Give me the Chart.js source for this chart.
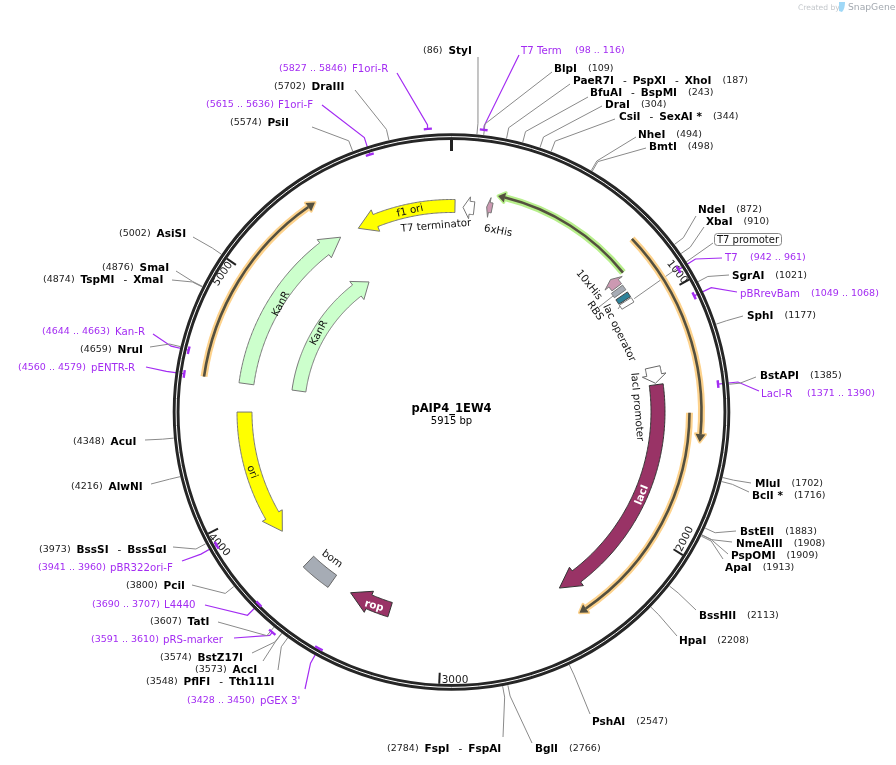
<!DOCTYPE html>
<html>
<head>
<meta charset="utf-8">
<title>pAIP4_1EW4</title>
<script src="https://cdn.jsdelivr.net/npm/chart.js@4"></script>
<style>
  html, body { margin: 0; padding: 0; background: #fff; }
  canvas { display: block; }
</style>
</head>
<body>
<canvas id="map" width="896" height="765"></canvas>
<script>
/* Plasmid map: everything is placed in base pairs and pushed through the chart scales. */

const plasmidName = "pAIP4_1EW4";
const plasmidSize = 5915;
const tickBp = [0, 1000, 2000, 3000, 4000, 5000];

const siteNames = [
  ["StyI"], ["BlpI"], ["PaeR7I", "PspXI", "XhoI"], ["BfuAI", "BspMI"], ["DraI"], ["CsiI", "SexAI *"],
  ["NheI"], ["BmtI"], ["NdeI"], ["XbaI"], ["SgrAI"], ["SphI"], ["BstAPI"], ["MluI"], ["BclI *"],
  ["BstEII"], ["NmeAIII"], ["PspOMI"], ["ApaI"], ["BssHII"], ["HpaI"], ["PshAI"], ["BglI"],
  ["FspI", "FspAI"], ["PflFI", "Tth111I"], ["AccI"], ["BstZ17I"], ["TatI"], ["PciI"],
  ["BssSI", "BssSαI"], ["AlwNI"], ["AcuI"], ["NruI"], ["SmaI"], ["TspMI", "XmaI"], ["AsiSI"],
  ["PsiI"], ["DraIII"],
];
const siteBp = [
  86, 109, 187, 243, 304, 344, 494, 498, 872, 910, 1021, 1177, 1385, 1702, 1716, 1883, 1908, 1909,
  1913, 2113, 2208, 2547, 2766, 2784, 3548, 3573, 3574, 3607, 3800, 3973, 4216, 4348, 4659, 4876,
  4874, 5002, 5574, 5702,
];

const primerNames = [
  "T7 Term", "T7", "pBRrevBam", "LacI-R", "pGEX 3'", "pRS-marker", "L4440", "pBR322ori-F",
  "pENTR-R", "Kan-R", "F1ori-F", "F1ori-R",
];
const primerStart = [98, 942, 1049, 1371, 3428, 3591, 3690, 3941, 4560, 4644, 5615, 5827];
const primerEnd = [116, 961, 1068, 1390, 3450, 3610, 3707, 3960, 4579, 4663, 5636, 5846];

const featureNames = [
  "f1 ori", "T7 terminator", "6xHis", "10xHis", "RBS", "lac operator", "T7 promoter",
  "lacI promoter", "lacI", "rop", "bom", "ori", "KanR", "KanR",
];
const featureStart = [5473, 53, 160, 825, 878, 915, 945, 1273, 1354, 3241, 3535, 3858, 4565, 4565];
const featureEnd = [16, 104, 185, 870, 903, 940, 968, 1347, 2440, 3437, 3676, 4436, 5383, 5383];
const featureDir = [-1, -1, -1, -1, 0, 0, 0, 1, 1, 1, 0, -1, 1, 1];

const thinStart = [200, 759, 1482, 4570];
const thinEnd = [836, 1592, 2423, 5371];
const thinDir = [-1, 1, 1, 1];

/* ---- layout and style, nothing below here is plasmid data ---- */
const CX = 451.5, CY = 412;
const RING_R = 275.4;
const PURPLE = "#a32cf2";

// text start x, text y, leader end x, leader end y
const siteLayout = [
  [423, 50, 478, 57], [554, 68, 552, 72], [573, 80, 570, 84], [590, 92, 588, 97], [605, 104, 602, 106],
  [619, 116, 615, 119], [638, 134, 636, 137], [649, 146, 646, 148], [698, 209, 696, 216],
  [706, 221, 704, 227], [732, 275, 729, 275], [747, 315, 743, 316], [760, 375, 756, 377],
  [755, 483, 751, 483], [752, 495, 749, 492], [740, 531, 736, 531], [736, 543, 732, 542],
  [731, 555, 728, 554], [725, 567, 723, 559], [699, 615, 696, 610], [679, 640, 677, 636],
  [592, 721, 590, 714], [535, 748, 532, 743], [387, 748, 503, 737], [146, 681, 278, 670],
  [195, 669, 263, 661], [160, 657, 252, 653], [150, 621, 218, 622], [126, 585, 192, 585],
  [39, 549, 173, 547], [71, 486, 151, 484], [73, 441, 145, 440], [80, 349, 150, 347],
  [102, 267, 176, 271], [43, 279, 172, 280], [119, 233, 193, 237], [230, 122, 312, 127],
  [274, 86, 355, 90],
];
const numberFirst = [
  true, false, false, false, false, false, false, false, false, false, false, false, false, false,
  false, false, false, false, false, false, false, false, false, true, true, true, true, true, true,
  true, true, true, true, true, true, true, true, true,
];

// name x, text y, leader end x, leader end y, range x
const primerLayout = [
  [521, 50, 519, 55, 575], [725, 257, 722, 258, 750], [740, 293, 737, 292, 811], [761, 393, 759, 391, 807],
  [260, 700, 305, 689, 187], [163, 639, 234, 638, 91], [164, 604, 205, 605, 92], [110, 567, 182, 561, 38],
  [91, 367, 146, 367, 18], [115, 331, 153, 334, 42], [278, 104, 322, 105, 206], [352, 68, 397, 73, 279],
];
const primerRadius = [284, 268, 269, 268, 271, 284, 272, 270, 270, 270, 270, 284];

// middle radius, band width, head width, head length in bp
const featureShape = [
  [206, 13, 23, 86], [205, 13, 22, 30], [208, 10, 20, 12], [207, 12, 22, 22], [206, 14, 0, 0], [206, 14, 0, 0],
  [206, 14, 0, 0], [206, 15, 24, 38], [206.5, 14, 23, 94], [207, 15, 23, 93], [207, 15, 0, 0], [207, 15, 23, 85],
  [207, 15, 23, 91], [154, 14, 23, 91],
];
const featureFill = [
  "#ffff00", "#ffffff", "#cc99b2", "#cc99b2", "#a6acb5", "#2f8299", "#ffffff", "#ffffff",
  "#993366", "#993366", "#a6acb5", "#ffff00", "#ccffcc", "#ccffcc",
];
const featureEdge = [
  "#777", "#777", "#777", "#777", "#777", "#444", "#777", "#666", "#333", "#333", "#666", "#777", "#777", "#777",
];
// text centre x, centre y, rotation in degrees, colour
const featureText = [
  [410, 211, -13, "#111"], [436, 226, -5, "#111"], [498, 231, 11, "#111"], [589, 285, 51, "#111"],
  [595, 311, 55, "#111"], [619, 333, 64, "#111"], [748, 240, 0, "#111"], [637, 407, 85, "#111"],
  [642, 495, -68, "#fff"], [374, 606, 16, "#fff"], [332, 559, 36, "#111"], [252, 472, 69, "#111"],
  [281, 304, -62, "#111"], [319, 333, -62, "#111"],
];
const tickText = [[], [677, 272, 52], [685, 539, -64], [455, 680, 0], [219, 545, 48], [223, 274, -56]];

const thinRadius = [221, 250, 238, 250];
const thinHalo = ["#b7ef8b", "#fdd28c", "#fdd28c", "#fdd28c"];

function polar(bp, r) {
  const a = (bp / plasmidSize) * 2 * Math.PI;
  return { x: CX + r * Math.sin(a), y: CY - r * Math.cos(a) };
}

// gray leaders: ring, short radial stub, then out to the label; null breaks the line
const siteLeaders = [];
siteBp.forEach((bp, i) => {
  const l = siteLayout[i];
  siteLeaders.push(polar(bp, 279), polar(bp, 290), { x: l[2], y: l[3] }, { x: null, y: null });
});
[[956, 215, 713, 243], [890, 212, 599, 307], [926, 213, 618, 309]].forEach((l) => {
  siteLeaders.push(polar(l[0], l[1]), { x: l[2], y: l[3] }, { x: null, y: null });
});

const primerLeaders = [];
primerNames.forEach((n, i) => {
  const mid = (primerStart[i] + primerEnd[i]) / 2;
  const l = primerLayout[i];
  primerLeaders.push(polar(mid, primerRadius[i]), polar(mid, 288), { x: l[2], y: l[3] }, { x: null, y: null });
});

/* marks that need a filled outline are drawn here, still in bp through the scales */
const mapPlugin = {
  id: "plasmidMap",
  afterDatasetsDraw(chart) {
    const { ctx, scales } = chart;
    const P = (bp, r) => {
      const p = polar(bp, r);
      return [scales.x.getPixelForValue(p.x), scales.y.getPixelForValue(p.y)];
    };
    const C = [scales.x.getPixelForValue(CX), scales.y.getPixelForValue(CY)];
    const toRad = (bp) => (bp / plasmidSize) * 2 * Math.PI - Math.PI / 2;

    function arcStroke(b0, b1, r, width, color, cap) {
      ctx.beginPath();
      ctx.arc(C[0], C[1], r, toRad(b0), toRad(b1));
      ctx.lineWidth = width;
      ctx.strokeStyle = color;
      ctx.lineCap = cap || "butt";
      ctx.stroke();
    }

    // ring
    arcStroke(0, plasmidSize, RING_R, 6.8, "#262626");
    arcStroke(0, plasmidSize, RING_R, 1, "#ffffff");

    // ticks
    tickBp.forEach((bp, i) => {
      const a = P(bp, 261), b = P(bp, 272);
      ctx.beginPath();
      ctx.moveTo(a[0], a[1]);
      ctx.lineTo(b[0], b[1]);
      ctx.lineWidth = i === 0 ? 3 : 2;
      ctx.strokeStyle = "#222";
      ctx.lineCap = "butt";
      ctx.stroke();
      const t = tickText[i];
      if (t.length) rotText(String(bp), t[0], t[1], t[2], "10.5px 'DejaVu Sans'", "#222");
    });

    // thin arrows with a halo
    thinStart.forEach((s, i) => {
      const e = thinEnd[i], r = thinRadius[i], dir = thinDir[i], head = 30;
      const tip = dir > 0 ? e : s;
      const base = tip - dir * head;
      const b0 = dir > 0 ? s : base, b1 = dir > 0 ? base : e;
      arcStroke(b0, b1, r, 7, thinHalo[i]);
      const wing1 = P(base, r + 5), wing2 = P(base, r - 5), t = P(tip, r);
      ctx.beginPath();
      ctx.moveTo(wing1[0], wing1[1]);
      ctx.lineTo(t[0], t[1]);
      ctx.lineTo(wing2[0], wing2[1]);
      ctx.closePath();
      ctx.lineJoin = "round";
      ctx.lineWidth = 3;
      ctx.strokeStyle = thinHalo[i];
      ctx.fillStyle = "#54503f";
      ctx.stroke();
      ctx.fill();
      arcStroke(b0, b1, r, 2.6, "#54503f");
    });

    // features
    featureNames.forEach((name, i) => {
      let s = featureStart[i], e = featureEnd[i];
      if (e < s) e += plasmidSize;
      const dir = featureDir[i];
      const [r, w, hw, hl] = featureShape[i];
      const tail = dir < 0 ? e : s;
      const tip = dir < 0 ? s : e;
      const d = dir || 1;
      const base = dir ? tip - d * hl : tip;
      const pts = [];
      const step = 6;
      for (let b = tail; d * (b - base) < 0; b += d * step) pts.push(P(b, r + w / 2));
      pts.push(P(base, r + w / 2));
      if (dir) {
        pts.push(P(base, r + hw / 2));
        pts.push(P(tip, r));
        pts.push(P(base, r - hw / 2));
      }
      pts.push(P(base, r - w / 2));
      for (let b = base - d * step; d * (b - tail) > 0; b -= d * step) pts.push(P(b, r - w / 2));
      pts.push(P(tail, r - w / 2));
      ctx.beginPath();
      pts.forEach((p, j) => (j ? ctx.lineTo(p[0], p[1]) : ctx.moveTo(p[0], p[1])));
      ctx.closePath();
      ctx.fillStyle = featureFill[i];
      ctx.strokeStyle = featureEdge[i];
      ctx.lineWidth = 1;
      ctx.lineJoin = "miter";
      ctx.fill();
      ctx.stroke();

      const t = featureText[i];
      const white = t[3] === "#fff";
      rotText(name, t[0], t[1], t[2], (white ? "bold " : "") + "10.3px 'DejaVu Sans'", t[3]);
    });

    // T7 promoter carries its name in a box
    ctx.beginPath();
    ctx.roundRect(714.5, 233.5, 67, 12, 3);
    ctx.fillStyle = "#fff";
    ctx.fill();
    ctx.lineWidth = 1;
    ctx.strokeStyle = "#888";
    ctx.stroke();
    rotText("T7 promoter", 748, 240, 0, "10px 'DejaVu Sans'", "#111");

    // primer marks
    primerNames.forEach((n, i) => {
      arcStroke(primerStart[i] - 4, primerEnd[i] + 4, primerRadius[i], 2.4, PURPLE);
      const l = primerLayout[i];
      plain(n, l[0], l[1], "10.2px 'DejaVu Sans'", PURPLE);
      plain(`(${primerStart[i]} .. ${primerEnd[i]})`, l[4], l[1], "9.5px 'DejaVu Sans'", PURPLE);
    });

    // site labels
    siteNames.forEach((parts, i) => {
      const l = siteLayout[i];
      let x = l[0];
      const num = `(${siteBp[i]})`;
      if (numberFirst[i]) {
        x += plain(num, x, l[1], "9.5px 'DejaVu Sans'", "#222") + 6;
      }
      parts.forEach((p, j) => {
        if (j) {
          x += 9;
          x += plain("-", x, l[1], "10.5px 'DejaVu Sans'", "#111") + 6;
        }
        x += plain(p, x, l[1], "bold 10.5px 'DejaVu Sans'", "#000");
      });
      if (!numberFirst[i]) plain(num, x + 11, l[1], "9.5px 'DejaVu Sans'", "#222");
    });

    // title
    rotText(plasmidName, C[0], 409, 0, "bold 11.5px 'DejaVu Sans'", "#000");
    rotText(plasmidSize + " bp", C[0], 421, 0, "10px 'DejaVu Sans'", "#000");

    // credit
    plain("Created by", 798, 7, "7.6px 'DejaVu Sans'", "#c4c8cc");
    ctx.beginPath();
    ctx.moveTo(839, 2);
    ctx.lineTo(845, 2);
    ctx.quadraticCurveTo(845, 9, 842, 12);
    ctx.lineTo(839, 11);
    ctx.closePath();
    ctx.fillStyle = "#9fd8f7";
    ctx.fill();
    plain("SnapGene", 848, 7, "9.2px 'DejaVu Sans'", "#a3a9b0");

    function plain(text, x, y, font, color) {
      ctx.font = font;
      ctx.fillStyle = color;
      ctx.textAlign = "left";
      ctx.textBaseline = "middle";
      ctx.fillText(text, x, y + 1);
      return ctx.measureText(text).width;
    }
    function rotText(text, x, y, deg, font, color) {
      ctx.save();
      ctx.translate(x, y);
      ctx.rotate((deg * Math.PI) / 180);
      ctx.font = font;
      ctx.fillStyle = color;
      ctx.textAlign = "center";
      ctx.textBaseline = "middle";
      ctx.fillText(text, 0, 0);
      ctx.restore();
    }
  },
};

new Chart(document.getElementById("map"), {
  type: "scatter",
  data: {
    datasets: [
      { data: siteLeaders, showLine: true, spanGaps: false, borderColor: "#8a8a8a", borderWidth: 1, pointRadius: 0 },
      { data: primerLeaders, showLine: true, spanGaps: false, borderColor: PURPLE, borderWidth: 1.2, pointRadius: 0 },
    ],
  },
  options: {
    responsive: false,
    animation: false,
    layout: { padding: 0 },
    plugins: { legend: { display: false }, tooltip: { enabled: false } },
    scales: {
      x: { type: "linear", min: 0, max: 896, display: false },
      y: { type: "linear", min: 0, max: 765, reverse: true, display: false },
    },
  },
  plugins: [mapPlugin],
});
</script>
</body>
</html>
